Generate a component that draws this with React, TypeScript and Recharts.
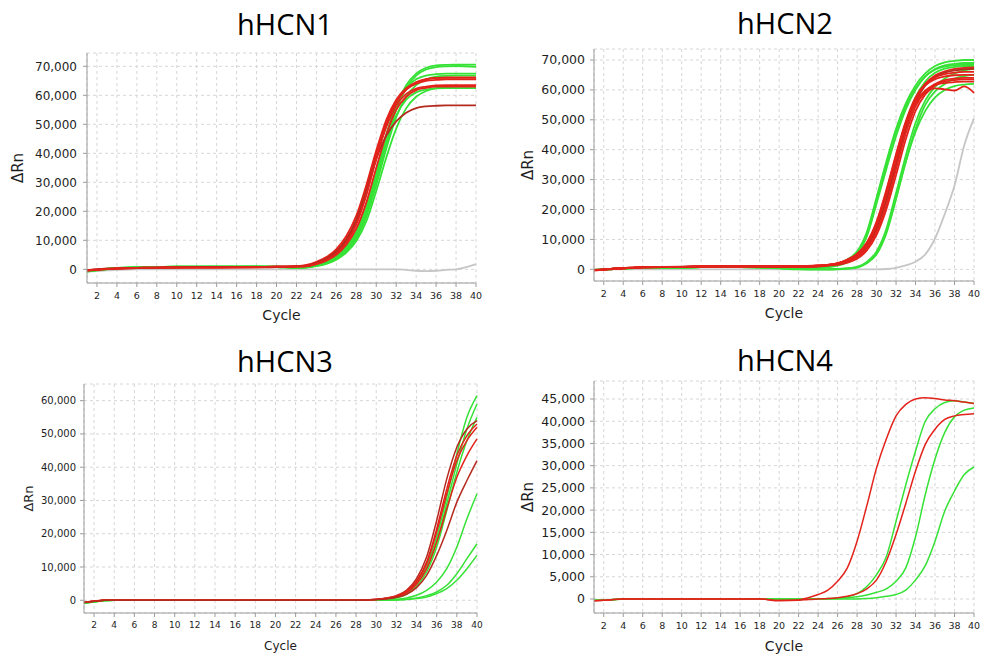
import React from 'react';
import { LineChart, Line, XAxis, YAxis, CartesianGrid } from 'recharts';

// ---------- shared ----------
const xTicks = [2, 4, 6, 8, 10, 12, 14, 16, 18, 20, 22, 24, 26, 28, 30, 32, 34, 36, 38, 40];
const yTicks70k = [0, 10000, 20000, 30000, 40000, 50000, 60000, 70000];
const yTicks60k = [0, 10000, 20000, 30000, 40000, 50000, 60000];
const yTicks45k = [0, 5000, 10000, 15000, 20000, 25000, 30000, 35000, 40000, 45000];
const titles = ['hHCN1', 'hHCN2', 'hHCN3', 'hHCN4'];

const RED = '#e3231b';
const DARKRED = '#b52a1f';
const GREEN = '#36e236';
const GRAY = '#c6c6c6';

// ---------- hHCN1 ----------
const cycles1 = [1, 2, 3, 4, 6, 8, 10, 14, 18, 20, 22, 23, 24, 25, 26, 27, 28, 29, 30, 31, 32, 33, 34, 35, 36, 37, 38, 40];
const h1_red1 = [-400, -100, 100, 300, 500, 600, 700, 700, 800, 900, 1100, 1500, 2600, 4200, 7000, 11500, 18500, 29000, 41000, 51500, 58500, 62500, 64500, 65500, 66000, 66000, 66000, 66000];
const h1_red2 = [-300, 0, 200, 300, 500, 600, 600, 700, 800, 900, 1000, 1300, 2300, 3800, 6300, 10500, 17000, 27500, 40000, 50500, 58000, 62000, 64000, 65000, 65300, 65500, 65500, 65500];
const h1_red3 = [-500, -200, 100, 300, 400, 500, 600, 700, 700, 800, 1000, 1200, 2100, 3500, 5800, 9800, 16000, 26000, 38500, 49000, 56500, 60500, 62300, 63000, 63400, 63500, 63500, 63500];
const h1_red4 = [-400, -100, 100, 200, 400, 500, 600, 600, 700, 800, 900, 1000, 1800, 3000, 5000, 8500, 14000, 23000, 35000, 46500, 55000, 59500, 61800, 62600, 63000, 63000, 63000, 63000];
const h1_red5 = [-300, 0, 200, 300, 500, 600, 700, 800, 800, 900, 1100, 1200, 2200, 3700, 6200, 10300, 17000, 27000, 38000, 46000, 51000, 54000, 55600, 56200, 56400, 56500, 56500, 56500];
const h1_red6 = [-400, -100, 100, 300, 500, 600, 700, 700, 800, 900, 1000, 1100, 1900, 3200, 5400, 9200, 15500, 25500, 38000, 49500, 57500, 62000, 64500, 65600, 66000, 66200, 66200, 66200];
const h1_grn1 = [-700, -300, 100, 400, 700, 800, 900, 900, 900, 900, 700, 800, 1500, 2500, 4200, 7200, 12000, 20500, 32500, 45500, 56500, 63500, 67500, 69500, 70300, 70500, 70600, 70600];
const h1_grn2 = [-600, -200, 200, 500, 700, 800, 900, 900, 1000, 900, 600, 700, 1300, 2200, 3800, 6600, 11000, 19000, 30500, 43500, 55000, 62500, 66800, 68900, 69700, 70000, 70100, 69800];
const h1_grn3 = [-700, -300, 100, 400, 600, 800, 800, 900, 900, 800, 700, 900, 1600, 2700, 4600, 7800, 13000, 22000, 34000, 46500, 56500, 62500, 65500, 66800, 67300, 67500, 67500, 67500];
const h1_grn4 = [-800, -400, 0, 300, 600, 700, 800, 800, 900, 800, 500, 700, 1200, 2100, 3600, 6300, 10500, 18000, 29000, 41500, 52500, 59500, 63500, 65500, 66400, 66700, 66800, 66800];
const h1_grn5 = [-700, -300, 100, 400, 700, 800, 900, 900, 900, 800, 500, 600, 1100, 1900, 3300, 5800, 9800, 16500, 27000, 38500, 48500, 55500, 59500, 61500, 62500, 62800, 63000, 63000];
const h1_grn6 = [-600, -200, 200, 500, 700, 800, 900, 900, 900, 900, 700, 800, 1400, 2400, 4200, 7200, 12000, 20000, 31500, 43500, 53000, 58500, 61000, 62000, 62400, 62500, 62500, 62500];
const h1_ntc = [-800, -600, -400, -200, 0, 0, 0, 0, 0, 0, 0, 0, 0, 0, 0, 0, 0, 0, 0, 0, 0, -200, -500, -600, -500, -200, 0, 1800];

// ---------- hHCN2 ----------
const cycles2 = [1, 2, 3, 4, 6, 8, 10, 12, 14, 16, 18, 20, 22, 24, 25, 26, 27, 28, 29, 30, 31, 32, 33, 34, 35, 36, 37, 38, 39, 40];
const h2_red1 = [-300, -100, 200, 300, 700, 800, 800, 1000, 1000, 1000, 1000, 1000, 1000, 1200, 1500, 2000, 3000, 4500, 8000, 14000, 24000, 36000, 48000, 57000, 62000, 64800, 66200, 67000, 67400, 67500];
const h2_red2 = [-200, 0, 200, 400, 700, 800, 900, 1000, 1000, 1000, 1000, 900, 900, 1100, 1400, 1800, 2700, 4200, 7500, 13500, 23000, 35000, 47000, 56000, 61500, 64300, 65800, 66500, 66900, 67000];
const h2_red3 = [-300, -100, 100, 300, 600, 700, 800, 900, 1000, 1000, 1000, 1000, 1000, 1200, 1500, 2100, 3300, 5200, 9000, 16000, 26500, 38500, 49500, 57500, 62000, 64200, 65300, 65800, 66000, 66000];
const h2_red4 = [-400, -200, 100, 300, 600, 700, 700, 900, 900, 900, 900, 900, 800, 1000, 1300, 1700, 2500, 4000, 7000, 12500, 21500, 33500, 45500, 54500, 59500, 62000, 63300, 63800, 64000, 64000];
const h2_red5 = [-300, -100, 200, 300, 700, 800, 800, 1000, 1100, 1100, 1100, 1100, 1100, 1300, 1500, 2000, 3200, 5000, 8800, 15500, 26000, 38000, 49000, 56000, 59800, 61600, 62300, 62600, 62800, 62800];
const h2_red6 = [-300, -100, 200, 300, 700, 800, 800, 1000, 1000, 1000, 1000, 1000, 1000, 1200, 1400, 1900, 3000, 4800, 8500, 15000, 25000, 37000, 48000, 55500, 59000, 60500, 60200, 59800, 61200, 59000];
const h2_red7 = [-200, 0, 200, 400, 700, 800, 800, 900, 900, 900, 900, 800, 700, 900, 1200, 1500, 2200, 3500, 6300, 11500, 20000, 31500, 43500, 53000, 58500, 61500, 62800, 63300, 63500, 63500];
const h2_red8 = [-300, -100, 200, 300, 700, 800, 800, 1000, 1000, 1000, 1000, 1000, 1000, 1200, 1400, 1900, 2900, 4600, 8200, 14800, 25000, 37000, 48500, 57000, 61500, 63600, 64500, 64900, 65000, 65000];
const h2_grnL1 = [-200, 0, 200, 300, 500, 600, 600, 700, 700, 700, 700, 600, 500, 800, 1200, 1900, 3300, 6000, 12500, 24000, 36000, 47000, 55500, 61500, 65500, 68000, 69200, 69700, 70000, 70000];
const h2_grnL2 = [-300, -100, 100, 300, 500, 600, 600, 700, 700, 700, 700, 600, 400, 700, 1000, 1600, 2900, 5200, 11000, 22000, 33500, 44500, 53500, 60000, 64500, 67000, 68200, 68700, 69000, 69000];
const h2_grnL3 = [-200, 0, 200, 300, 500, 600, 600, 700, 700, 700, 700, 600, 500, 700, 1100, 1700, 3000, 5400, 11500, 23000, 35000, 46000, 54500, 60500, 64500, 66800, 67800, 68300, 68500, 68500];
const h2_grnM = [-300, -100, 100, 300, 500, 600, 600, 700, 700, 700, 700, 600, 300, 400, 700, 1200, 2300, 4000, 8000, 15000, 25500, 37500, 49000, 57500, 62800, 65700, 67100, 67700, 68000, 68000];
const h2_grnR1 = [-300, -100, 100, 300, 500, 600, 600, 700, 700, 700, 600, 400, 100, 0, 0, 100, 300, 800, 2500, 6000, 13500, 25500, 38000, 49000, 56500, 61000, 63800, 65500, 66500, 67000];
const h2_grnR2 = [-200, 0, 200, 300, 500, 600, 600, 700, 700, 700, 600, 400, 100, 0, 0, 0, 200, 600, 2000, 5000, 12000, 23500, 36000, 47000, 55000, 59500, 62000, 63800, 64600, 65000];
const h2_grnR3 = [-300, -100, 100, 300, 500, 600, 600, 700, 700, 700, 600, 300, 0, 0, 0, 100, 300, 700, 2200, 5300, 12500, 24000, 36000, 46000, 53000, 57500, 60000, 61300, 61800, 62000];
const h2_ntc = [-300, -200, 0, 0, 0, 0, 0, 0, 0, 0, 0, 0, 0, 0, 0, 0, 0, 0, 0, 0, 100, 500, 1300, 2500, 5000, 10300, 18500, 28000, 41500, 50500];

// ---------- hHCN3 ----------
const cycles3 = [1, 2, 3, 4, 8, 12, 16, 20, 24, 28, 29, 30, 31, 32, 33, 34, 35, 36, 37, 38, 39, 40];
const h3_grnA = [-900, -500, -100, 0, 0, 0, 0, 0, 0, 0, 0, 200, 500, 1000, 2500, 5500, 10500, 19000, 31000, 44000, 55000, 61500];
const h3_grnB = [-800, -400, -100, 0, 0, 0, 0, 0, 0, 0, 0, 200, 400, 900, 2200, 5000, 9500, 17500, 29000, 41000, 51500, 59000];
const h3_grnC = [-900, -500, -100, 0, 0, 0, 0, 0, 0, 0, 0, 100, 300, 700, 1800, 4200, 8500, 16000, 27000, 38500, 48000, 55000];
const h3_grnD = [-800, -400, -100, 0, 0, 0, 0, 0, 0, 0, 0, 0, 100, 300, 700, 1500, 3000, 5500, 9500, 16000, 24500, 32000];
const h3_grnE = [-900, -500, -100, 0, 0, 0, 0, 0, 0, 0, 0, 0, 0, 100, 300, 700, 1400, 2500, 4500, 8000, 12500, 17000];
const h3_grnF = [-800, -400, -100, 0, 0, 0, 0, 0, 0, 0, 0, 0, 0, 100, 200, 500, 1000, 2000, 3500, 6000, 9500, 13500];
const h3_redA = [-700, -300, 0, 0, 0, 0, 0, 0, 0, 0, 100, 300, 700, 1400, 3000, 6500, 13000, 24000, 36500, 46000, 51500, 54000];
const h3_redB = [-600, -300, 0, 0, 0, 0, 0, 0, 0, 0, 100, 300, 600, 1200, 2700, 5800, 11500, 21500, 33500, 43500, 49500, 53000];
const h3_redC = [-700, -300, 0, 0, 0, 0, 0, 0, 0, 0, 100, 250, 600, 1200, 2600, 5500, 11000, 20500, 32000, 42000, 48000, 52000];
const h3_redD = [-600, -200, 0, 0, 0, 0, 0, 0, 0, 0, 50, 200, 500, 1000, 2200, 4800, 9500, 17500, 27500, 37000, 43500, 48500];
const h3_redE = [-700, -300, 0, 0, 0, 0, 0, 0, 0, 0, 50, 200, 400, 900, 1800, 3800, 7500, 13500, 21000, 29500, 36000, 42000];

// ---------- hHCN4 ----------
const cycles4 = [1, 2, 3, 4, 8, 12, 16, 18, 20, 22, 23, 24, 25, 26, 27, 28, 29, 30, 31, 32, 33, 34, 35, 36, 37, 38, 39, 40];
const h4_red1 = [-400, -300, -100, 0, 0, 0, 0, 0, -300, -200, 300, 1000, 2000, 4000, 7000, 13000, 21000, 29500, 36000, 41200, 43800, 45000, 45300, 45100, 44800, 44600, 44300, 44000];
const h4_grn1 = [-300, -300, -200, 0, 0, 0, 0, 0, 0, -100, 0, 0, 100, 200, 500, 1200, 2800, 5500, 9500, 17500, 25700, 33300, 40000, 42800, 44200, 44600, 44300, 44000];
const h4_red2 = [-400, -300, -100, 0, 0, 0, 0, 0, -400, -300, -100, 0, 100, 300, 600, 1200, 2300, 4300, 8500, 14500, 21500, 28800, 34800, 38200, 40400, 41200, 41500, 41700];
const h4_grn2 = [-300, -200, -100, 0, 0, 0, 0, 0, 0, 0, 0, 0, 0, 100, 300, 500, 900, 1500, 2300, 4000, 7000, 14000, 23500, 31500, 37500, 41000, 42500, 43000];
const h4_grn3 = [-300, -200, -100, 0, 0, 0, 0, 0, 0, 0, 0, 0, 0, 0, 0, 0, 100, 300, 600, 1000, 2000, 4300, 7500, 13000, 19800, 24300, 28000, 29700];

type Curve = { name: string; values: number[]; color: string };

const curves1: Curve[] = [
  { name: 'ntc', values: h1_ntc, color: GRAY },
  { name: 'g1', values: h1_grn1, color: GREEN },
  { name: 'g2', values: h1_grn2, color: GREEN },
  { name: 'g3', values: h1_grn3, color: GREEN },
  { name: 'g4', values: h1_grn4, color: GREEN },
  { name: 'g5', values: h1_grn5, color: GREEN },
  { name: 'g6', values: h1_grn6, color: GREEN },
  { name: 'r1', values: h1_red1, color: RED },
  { name: 'r2', values: h1_red2, color: RED },
  { name: 'r3', values: h1_red3, color: RED },
  { name: 'r4', values: h1_red4, color: RED },
  { name: 'r5', values: h1_red5, color: DARKRED },
  { name: 'r6', values: h1_red6, color: RED },
];
const curves2: Curve[] = [
  { name: 'ntc', values: h2_ntc, color: GRAY },
  { name: 'gL1', values: h2_grnL1, color: GREEN },
  { name: 'gL2', values: h2_grnL2, color: GREEN },
  { name: 'gL3', values: h2_grnL3, color: GREEN },
  { name: 'gM', values: h2_grnM, color: GREEN },
  { name: 'gR1', values: h2_grnR1, color: GREEN },
  { name: 'gR2', values: h2_grnR2, color: GREEN },
  { name: 'gR3', values: h2_grnR3, color: GREEN },
  { name: 'r1', values: h2_red1, color: RED },
  { name: 'r2', values: h2_red2, color: DARKRED },
  { name: 'r3', values: h2_red3, color: RED },
  { name: 'r4', values: h2_red4, color: RED },
  { name: 'r5', values: h2_red5, color: RED },
  { name: 'r6', values: h2_red6, color: RED },
  { name: 'r7', values: h2_red7, color: RED },
  { name: 'r8', values: h2_red8, color: RED },
];
const curves3: Curve[] = [
  { name: 'gA', values: h3_grnA, color: GREEN },
  { name: 'gB', values: h3_grnB, color: GREEN },
  { name: 'gC', values: h3_grnC, color: GREEN },
  { name: 'gD', values: h3_grnD, color: GREEN },
  { name: 'gE', values: h3_grnE, color: GREEN },
  { name: 'gF', values: h3_grnF, color: GREEN },
  { name: 'rA', values: h3_redA, color: DARKRED },
  { name: 'rB', values: h3_redB, color: RED },
  { name: 'rC', values: h3_redC, color: RED },
  { name: 'rD', values: h3_redD, color: RED },
  { name: 'rE', values: h3_redE, color: DARKRED },
];
const curves4: Curve[] = [
  { name: 'g1', values: h4_grn1, color: GREEN },
  { name: 'g2', values: h4_grn2, color: GREEN },
  { name: 'g3', values: h4_grn3, color: GREEN },
  { name: 'r1', values: h4_red1, color: RED },
  { name: 'r2', values: h4_red2, color: RED },
];

const PW = 491;
const PH = 288;
const AXIS = '#9c9c9c';
const TEXT = '#1e1e1e';
const FONT = '"DejaVu Sans", sans-serif';
const fmt = (v: number) => v.toLocaleString('en-US');

type PanelProps = {
  title: string;
  left: number;
  top: number;
  titleX: number;
  titleBaseline: number;
  margin: { top: number; right: number; bottom: number; left: number };
  yWidth: number;
  xHeight: number;
  domain: [number, number];
  yTicks: number[];
  cycles: number[];
  curves: Curve[];
  yLabelX: number;
  cycleLabelDy: number;
  strokeWidth: number;
  yTickFont: number;
  yTickMargin: number;
  xTickFont: number;
  labelFont: number;
};

function Panel(p: PanelProps) {
  const data = p.cycles.map((c, i) => {
    const row: Record<string, number> = { cycle: c };
    p.curves.forEach((cv) => {
      row[cv.name] = cv.values[i];
    });
    return row;
  });
  const plotTop = p.margin.top;
  const plotBottom = PH - p.margin.bottom - p.xHeight;
  const plotLeft = p.margin.left + p.yWidth;
  const plotRight = PW - p.margin.right;
  const yMid = (plotTop + plotBottom) / 2;
  const xMid = (plotLeft + plotRight) / 2;
  const yl = p.yLabelX;
  const cy = plotBottom + p.cycleLabelDy;
  return (
    <>
      <div
        style={{
          position: 'absolute',
          left: p.titleX - 100,
          top: p.titleBaseline - 25.75,
          width: 200,
          textAlign: 'center',
          fontFamily: '"Open Sans", sans-serif',
          fontSize: 29,
          lineHeight: '29px',
          color: '#000',
        }}
      >
        {p.title}
      </div>
      <div style={{ position: 'absolute', left: p.left, top: p.top, width: PW, height: PH }}>
        <LineChart width={PW} height={PH} data={data} margin={p.margin}>
          <CartesianGrid stroke="#d6d6d6" strokeDasharray="3 3" />
          <XAxis
            dataKey="cycle"
            type="number"
            domain={[1, 40]}
            ticks={xTicks}
            interval={0}
            height={p.xHeight}
            tickSize={4}
            tickMargin={5}
            axisLine={{ stroke: AXIS }}
            tickLine={{ stroke: AXIS }}
            tick={{ fill: TEXT, fontSize: p.xTickFont, fontFamily: FONT }}
            label={() => (
              <text x={xMid} y={cy} textAnchor="middle" dominantBaseline="central" fontFamily={FONT} fontSize={p.labelFont} fill={TEXT}>
                Cycle
              </text>
            )}
          />
          <XAxis xAxisId="top" orientation="top" type="number" domain={[1, 40]} height={0} tick={false} tickLine={false} axisLine={{ stroke: AXIS }} />
          <YAxis
            type="number"
            domain={p.domain}
            ticks={p.yTicks}
            interval={0}
            allowDataOverflow
            width={p.yWidth}
            tickSize={4}
            tickMargin={p.yTickMargin}
            tickFormatter={fmt}
            axisLine={{ stroke: AXIS }}
            tickLine={{ stroke: AXIS }}
            tick={{ fill: TEXT, fontSize: p.yTickFont, fontFamily: FONT }}
            label={() => (
              <text
                x={yl}
                y={yMid}
                transform={`rotate(-90 ${yl} ${yMid})`}
                textAnchor="middle"
                dominantBaseline="central"
                fontFamily={FONT}
                fontSize={p.labelFont + 1}
                fill={TEXT}
              >
                ΔRn
              </text>
            )}
          />
          <YAxis yAxisId="right" orientation="right" type="number" domain={[0, 1]} width={0} tick={false} tickLine={false} axisLine={{ stroke: AXIS }} />
          {p.curves.map((cv) => (
            <Line
              key={cv.name}
              dataKey={cv.name}
              type="monotone"
              stroke={cv.color}
              strokeWidth={p.strokeWidth}
              dot={false}
              activeDot={false}
              isAnimationActive={false}
            />
          ))}
        </LineChart>
      </div>
    </>
  );
}

export default function App() {
  return (
    <div style={{ position: 'absolute', left: 0, top: 0, width: 982, height: 656, background: '#fff', overflow: 'hidden' }}>
      <Panel
        title={titles[0]}
        left={0}
        top={40}
        titleX={285}
        titleBaseline={35}
        margin={{ top: 13, right: 15, bottom: 0, left: 0 }}
        yWidth={87}
        xHeight={45}
        domain={[-4720, 74590]}
        yTicks={yTicks70k}
        cycles={cycles1}
        curves={curves1}
        yLabelX={18}
        cycleLabelDy={32}
        strokeWidth={1.8}
        yTickFont={12}
        yTickMargin={6}
        xTickFont={9.5}
        labelFont={14}
      />
      <Panel
        title={titles[1]}
        left={491}
        top={40}
        titleX={785}
        titleBaseline={34}
        margin={{ top: 9, right: 8, bottom: 0, left: 0 }}
        yWidth={103}
        xHeight={47}
        domain={[-3910, 73680]}
        yTicks={yTicks70k}
        cycles={cycles2}
        curves={curves2}
        yLabelX={37}
        cycleLabelDy={32}
        strokeWidth={1.8}
        yTickFont={12.5}
        yTickMargin={5}
        xTickFont={9.5}
        labelFont={14}
      />
      <Panel
        title={titles[2]}
        left={0}
        top={368}
        titleX={285}
        titleBaseline={372}
        margin={{ top: 16, right: 14, bottom: 0, left: 0 }}
        yWidth={84}
        xHeight={43}
        domain={[-3820, 65010]}
        yTicks={yTicks60k}
        cycles={cycles3}
        curves={curves3}
        yLabelX={28}
        cycleLabelDy={33}
        strokeWidth={1.5}
        yTickFont={10}
        yTickMargin={4}
        xTickFont={9}
        labelFont={12}
      />
      <Panel
        title={titles[3]}
        left={491}
        top={368}
        titleX={785}
        titleBaseline={371}
        margin={{ top: 13, right: 8, bottom: 0, left: 0 }}
        yWidth={103}
        xHeight={43}
        domain={[-3150, 49050]}
        yTicks={yTicks45k}
        cycles={cycles4}
        curves={curves4}
        yLabelX={37}
        cycleLabelDy={33}
        strokeWidth={1.5}
        yTickFont={12.5}
        yTickMargin={5}
        xTickFont={9.5}
        labelFont={14}
      />
    </div>
  );
}
